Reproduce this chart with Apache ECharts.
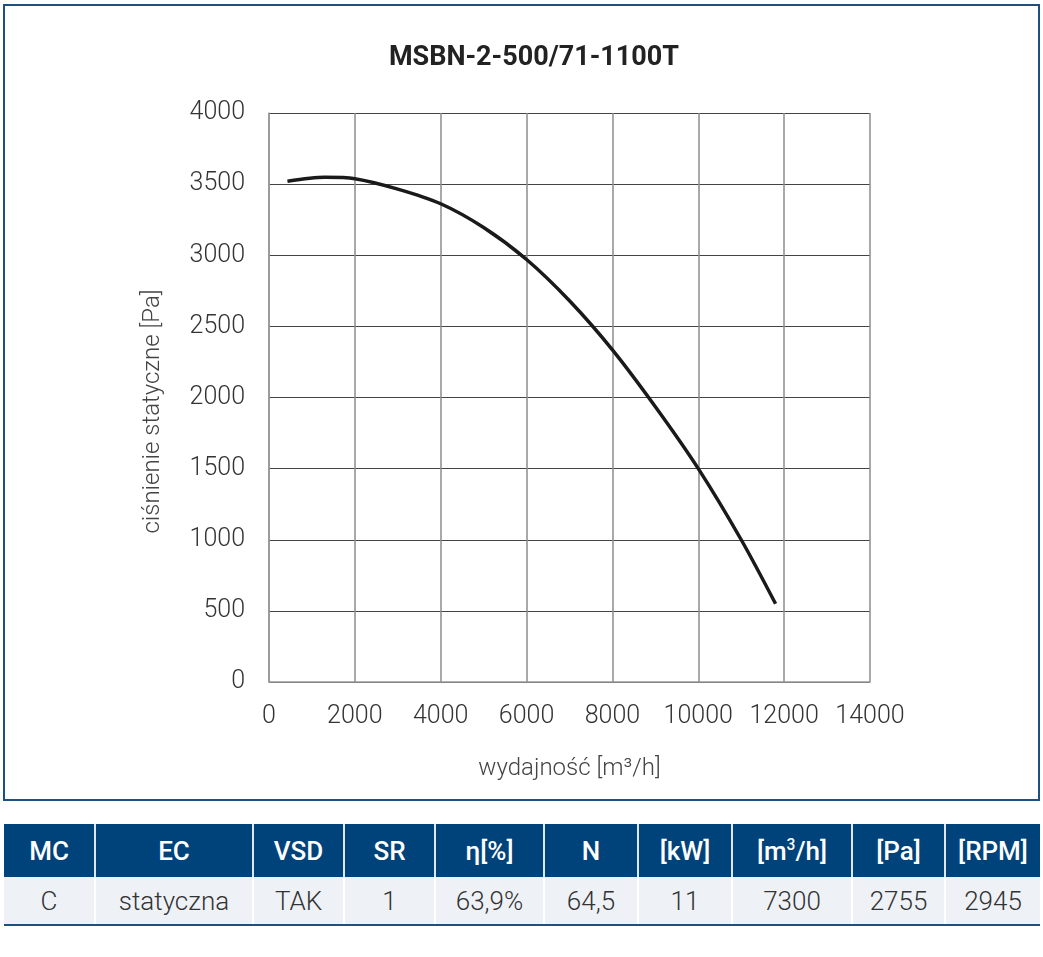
<!DOCTYPE html>
<html>
<head>
<meta charset="utf-8">
<script src="https://cdn.jsdelivr.net/npm/echarts@6/dist/echarts.min.js"></script>
<style>
    html,body{margin:0;padding:0;background:#fff;}
    body{width:1043px;height:957px;position:relative;overflow:hidden;font-family:Roboto,"DejaVu Sans",sans-serif;}
    .chart-box{position:absolute;left:3px;top:4px;width:1033px;height:793px;border:2px solid #1d4f80;}
    #chart-div{position:absolute;left:0;top:0;width:1043px;height:805px;}
    .data-table{position:absolute;left:4px;top:824px;width:1036px;border-collapse:collapse;table-layout:fixed;}
    .data-table th{background:#00427a;color:#fff;font-weight:500;font-size:26px;height:53px;padding:0;border-left:2px solid #dfe6ee;text-align:center;}
    .data-table td{background:#eef2f7;color:#333;font-weight:300;font-size:26px;height:47px;padding:0;border-left:2px solid #fff;text-align:center;border-bottom:2px solid #1d4f80;}
    .data-table th:first-child,.data-table td:first-child{border-left:none;}
    sup{font-size:60%;line-height:0;}
</style>
</head>
<body>
<div class="chart-box"></div>
<div id="chart-div"></div>
<table class="data-table">
    <colgroup class="js-cols"></colgroup>
    <thead><tr class="js-head"></tr></thead>
    <tbody><tr class="js-row"></tr></tbody>
</table>
<script>
// krzywa wentylatora
var flow=[430,1300,2000,3000,4000,5000,6000,7000,8000,9000,10000,11000,11800];
var pressure=[3520,3548,3538,3465,3362,3195,2970,2680,2335,1935,1500,1000,550];

var x_ticks=[0,2000,4000,6000,8000,10000,12000,14000];
var y_ticks=[0,500,1000,1500,2000,2500,3000,3500,4000];

// tabela parametrow
var table_head=['MC','EC','VSD','SR','η[%]','N','[kW]','[m<sup>3</sup>/h]','[Pa]','[RPM]'];
var table_row=['C','statyczna','TAK','1','63,9%','64,5','11','7300','2755','2945'];
var col_width=[91,158,91,91,109,94,94,120,93,95];

(function(){
    var cols='',head='',row='';
    for(var i=0;i<table_head.length;i++){
        cols+='<col style="width:'+col_width[i]+'px">';
        head+='<th>'+table_head[i]+'</th>';
        row+='<td>'+table_row[i]+'</td>';
    }
    document.querySelector('.js-cols').innerHTML=cols;
    document.querySelector('.js-head').innerHTML=head;
    document.querySelector('.js-row').innerHTML=row;
})();

var font='Roboto,"DejaVu Sans",sans-serif';
var points=[];
for(var i=0;i<flow.length;i++){
    points.push([flow[i],pressure[i]]);
}

var myChart=echarts.init(document.getElementById('chart-div'));
var option={
    animation:false,
    title:{
        text:'MSBN-2-500/71-1100T',
        left:529,
        top:40,
        textAlign:'center',
        textStyle:{fontFamily:font,fontSize:27,fontWeight:'bold',color:'#222'}
    },
    grid:{left:269,top:113,right:173,bottom:123,containLabel:false},
    xAxis:{
        type:'value',
        min:x_ticks[0],
        max:x_ticks[x_ticks.length-1],
        interval:2000,
        name:'wydajność [m³/h]',
        nameLocation:'middle',
        nameGap:75,
        nameTextStyle:{fontFamily:font,fontSize:24,fontWeight:300,color:'#444'},
        axisLine:{show:true,lineStyle:{color:'#999',width:1.5}},
        axisTick:{show:false},
        axisLabel:{fontFamily:font,fontSize:25,fontWeight:300,color:'#333',margin:22,
            formatter:function(v){return String(v);}},
        splitLine:{show:true,lineStyle:{color:'#8c8c8c',width:1.5}}
    },
    yAxis:{
        type:'value',
        min:y_ticks[0],
        max:y_ticks[y_ticks.length-1],
        interval:500,
        name:'ciśnienie statyczne [Pa]',
        nameLocation:'middle',
        nameGap:104,
        nameTextStyle:{fontFamily:font,fontSize:24,fontWeight:300,color:'#444',padding:[0,0,0,-28]},
        axisLine:{show:true,lineStyle:{color:'#999',width:1.5}},
        axisTick:{show:false},
        axisLabel:{fontFamily:font,fontSize:25,fontWeight:300,color:'#333',margin:24,
            formatter:function(v){return String(v);}},
        splitLine:{show:true,lineStyle:{color:'#444',width:1.2}}
    },
    series:[
        {
            type:'line',
            data:points,
            smooth:0.3,
            symbol:'none',
            lineStyle:{color:'#1a1a1a',width:3.5}
        }
    ]
};
myChart.setOption(option);
</script>
</body>
</html>
